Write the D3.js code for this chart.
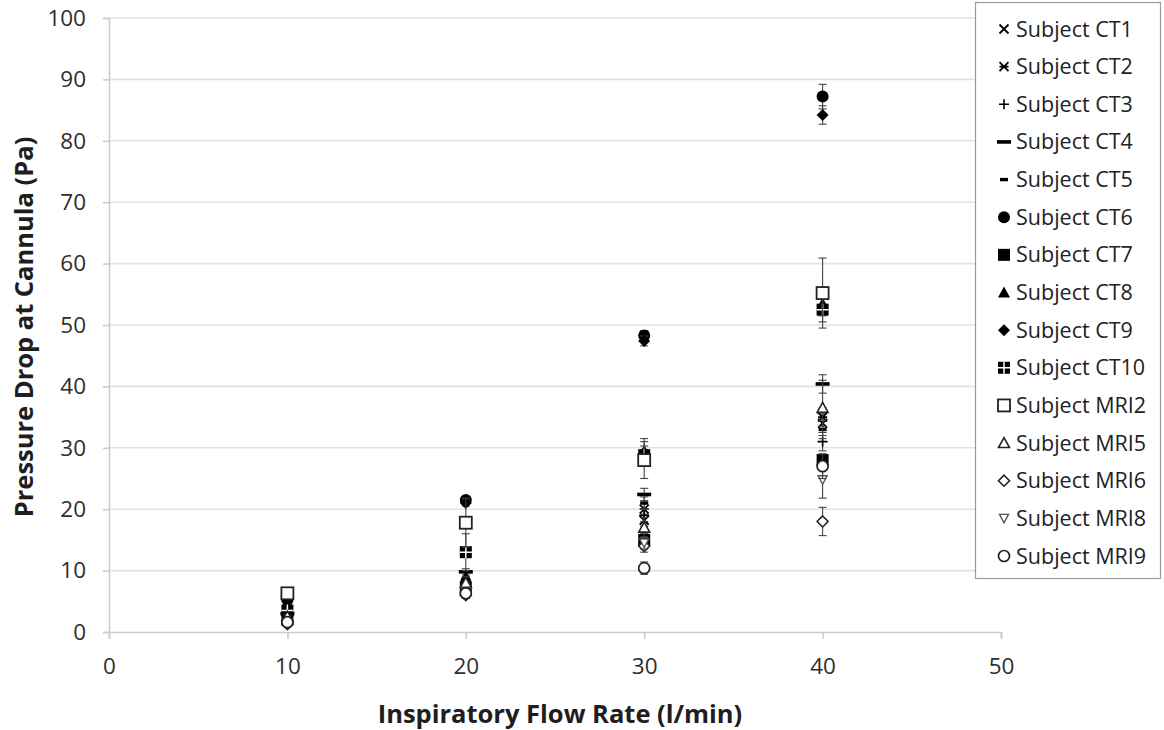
<!DOCTYPE html>
<html>
<head>
<meta charset="utf-8">
<script src="https://cdn.jsdelivr.net/npm/d3@7"></script>
<style>
  body { margin: 0; background: #fff; }
  svg text { font-family: "Open Sans", "DejaVu Sans", sans-serif; }
</style>
</head>
<body>
<div id="chart"></div>
<script>
// flow rates (x) and subjects
const flowRates = [10, 20, 30, 40];
const subjects = ["Subject CT1", "Subject CT2", "Subject CT3", "Subject CT4", "Subject CT5",
  "Subject CT6", "Subject CT7", "Subject CT8", "Subject CT9", "Subject CT10",
  "Subject MRI2", "Subject MRI5", "Subject MRI6", "Subject MRI8", "Subject MRI9"];

// pressure drop (Pa) at 10, 20, 30, 40 l/min
const ct1  = [2.2, 7.5, 18.2, 34.0];
const ct2  = [2.5, 8.0, 20.0, 35.0];
const ct3  = [2.0, 7.0, 19.0, 31.0];
const ct4  = [3.0, 9.8, 22.4, 40.4];
const ct5  = [2.4, 8.5, 21.0, 33.0];
const ct6  = [5.2, 21.5, 48.3, 87.2];
const ct7  = [2.0, 7.2, 15.0, 28.0];
const ct8  = [2.8, 9.0, 29.5, 53.5];
const ct9  = [5.0, 21.0, 47.4, 84.2];
const ct10 = [3.5, 13.0, 28.8, 52.5];
const mri2 = [6.3, 17.8, 28.0, 55.2];
const mri5 = [2.5, 8.0, 17.0, 36.5];
const mri6 = [1.3, 6.0, 14.0, 18.0];
const mri8 = [1.5, 6.5, 14.5, 24.8];
const mri9 = [1.6, 6.3, 10.4, 27.0];
const values = [ct1, ct2, ct3, ct4, ct5, ct6, ct7, ct8, ct9, ct10, mri2, mri5, mri6, mri8, mri9];

// error bar half-lengths (Pa)
const ct1Err  = [0.3, 0.5, 1.0, 1.5];
const ct2Err  = [0.3, 0.5, 1.0, 1.5];
const ct3Err  = [0.3, 0.5, 1.0, 1.5];
const ct4Err  = [0.3, 0.5, 1.0, 1.5];
const ct5Err  = [0.3, 0.5, 1.0, 1.5];
const ct6Err  = [0.5, 0.5, 0.8, 2.0];
const ct7Err  = [0.3, 0.5, 1.0, 1.0];
const ct8Err  = [0.3, 1.0, 2.0, 2.0];
const ct9Err  = [0.5, 0.5, 0.8, 1.5];
const ct10Err = [0.5, 3.0, 1.5, 2.0];
const mri2Err = [0.6, 4.0, 3.0, 5.7];
const mri5Err = [0.3, 1.0, 1.6, 4.5];
const mri6Err = [0.3, 0.5, 1.0, 2.3];
const mri8Err = [0.3, 0.5, 1.0, 3.0];
const mri9Err = [0.3, 0.5, 1.0, 2.0];
const errors = [ct1Err, ct2Err, ct3Err, ct4Err, ct5Err, ct6Err, ct7Err, ct8Err, ct9Err, ct10Err,
  mri2Err, mri5Err, mri6Err, mri8Err, mri9Err];

const xTicks = [0, 10, 20, 30, 40, 50];
const yTicks = [0, 10, 20, 30, 40, 50, 60, 70, 80, 90, 100];

// marker style per subject (same order as subjects)
const markerTypes = ["x", "asterisk", "plus", "dash", "shortdash", "circle", "square", "triangle",
  "diamond", "squarecross", "osquare", "otriangle", "odiamond", "otriangledown", "ocircle"];

const W = 1164, H = 730;
const margin = { top: 18, right: 163, bottom: 98, left: 109 };
const width = W - margin.left - margin.right,
      height = H - margin.top - margin.bottom;

const svg = d3.select("#chart").append("svg")
  .attr("width", W).attr("height", H);

const g = svg.append("g")
  .attr("transform", `translate(${margin.left},${margin.top})`);

const x = d3.scaleLinear().domain([0, 50]).range([0, width]);
const y = d3.scaleLinear().domain([0, 100]).range([height, 0]);

// gridlines
g.append("g").selectAll("line")
  .data(yTicks.slice(1))
  .join("line")
  .attr("x1", 0).attr("x2", width)
  .attr("y1", d => y(d)).attr("y2", d => y(d))
  .attr("stroke", "#e2e2e2").attr("stroke-width", 1.6);

// axes
const yAxis = g.append("g")
  .call(d3.axisLeft(y).tickValues(yTicks).tickSize(6).tickPadding(17));
const xAxis = g.append("g")
  .attr("transform", `translate(0,${height})`)
  .call(d3.axisBottom(x).tickValues(xTicks).tickSize(7).tickPadding(19));

[xAxis, yAxis].forEach(a => {
  a.attr("font-size", null).attr("font-family", null);
  a.selectAll("path, line").attr("stroke", "#cccccc").attr("stroke-width", 1.6);
  a.selectAll("text").style("font-size", "22.5px").attr("fill", "#2e2e2e");
});

function drawMarker(sel, type) {
  const s = 6;
  const black = "#000";
  switch (type) {
    case "x":
      sel.append("path").attr("d", "M-4.5,-4.5L4.5,4.5M4.5,-4.5L-4.5,4.5")
        .attr("stroke", black).attr("stroke-width", 1.8).attr("fill", "none");
      break;
    case "asterisk":
      sel.append("path").attr("d", "M-4.5,-4.5L4.5,4.5M4.5,-4.5L-4.5,4.5M-4.5,0L4.5,0")
        .attr("stroke", black).attr("stroke-width", 1.8).attr("fill", "none");
      break;
    case "plus":
      sel.append("path").attr("d", "M-5,0L5,0M0,-5L0,5")
        .attr("stroke", black).attr("stroke-width", 1.6).attr("fill", "none");
      break;
    case "dash":
      sel.append("rect").attr("x", -7).attr("y", -1.8).attr("width", 14).attr("height", 3.6)
        .attr("fill", black);
      break;
    case "shortdash":
      sel.append("rect").attr("x", -4).attr("y", -1.7).attr("width", 8).attr("height", 3.4)
        .attr("fill", black);
      break;
    case "circle":
      sel.append("circle").attr("r", s).attr("fill", black);
      break;
    case "square":
      sel.append("rect").attr("x", -s).attr("y", -s).attr("width", 2 * s).attr("height", 2 * s)
        .attr("fill", black);
      break;
    case "triangle":
      sel.append("path").attr("d", "M0,-6L6,5L-6,5Z").attr("fill", black);
      break;
    case "diamond":
      sel.append("path").attr("d", `M0,${-s}L${s},0L0,${s}L${-s},0Z`).attr("fill", black);
      break;
    case "squarecross":
      sel.append("rect").attr("x", -s).attr("y", -s).attr("width", 2 * s).attr("height", 2 * s)
        .attr("fill", black);
      sel.append("path").attr("d", `M${-s},0L${s},0M0,${-s}L0,${s}`)
        .attr("stroke", "#fff").attr("stroke-width", 1.5);
      break;
    case "osquare":
      sel.append("rect").attr("x", -6).attr("y", -6).attr("width", 12).attr("height", 12)
        .attr("fill", "#fff").attr("stroke", "#222").attr("stroke-width", 1.8);
      break;
    case "otriangle":
      sel.append("path").attr("d", "M0,-5.5L5.5,4.5L-5.5,4.5Z")
        .attr("fill", "#fff").attr("stroke", "#222").attr("stroke-width", 1.6);
      break;
    case "odiamond":
      sel.append("path").attr("d", "M0,-5.5L5.5,0L0,5.5L-5.5,0Z")
        .attr("fill", "#fff").attr("stroke", "#222").attr("stroke-width", 1.6);
      break;
    case "otriangledown":
      sel.append("path").attr("d", "M-4.5,-4L4.5,-4L0,4.5Z")
        .attr("fill", "#fff").attr("stroke", "#555").attr("stroke-width", 1.4);
      break;
    case "ocircle":
      sel.append("circle").attr("r", 5.5)
        .attr("fill", "#fff").attr("stroke", "#222").attr("stroke-width", 1.7);
      break;
  }
}

// series: error bars then markers
subjects.forEach((name, i) => {
  const pts = flowRates.map((f, j) => ({ f, v: values[i][j], e: errors[i][j] }));
  const sg = g.append("g");
  const eb = sg.selectAll("g.err").data(pts).join("g").attr("class", "err")
    .attr("stroke", "#444").attr("stroke-width", 1.1);
  eb.append("line")
    .attr("x1", d => x(d.f)).attr("x2", d => x(d.f))
    .attr("y1", d => y(d.v - d.e)).attr("y2", d => y(d.v + d.e));
  eb.append("line")
    .attr("x1", d => x(d.f) - 4).attr("x2", d => x(d.f) + 4)
    .attr("y1", d => y(d.v - d.e)).attr("y2", d => y(d.v - d.e));
  eb.append("line")
    .attr("x1", d => x(d.f) - 4).attr("x2", d => x(d.f) + 4)
    .attr("y1", d => y(d.v + d.e)).attr("y2", d => y(d.v + d.e));
  sg.selectAll("g.mk").data(pts).join("g").attr("class", "mk")
    .attr("transform", d => `translate(${x(d.f)},${y(d.v)})`)
    .each(function () { drawMarker(d3.select(this), markerTypes[i]); });
});

// axis titles
svg.append("text")
  .attr("transform", "translate(33,327) rotate(-90)")
  .attr("text-anchor", "middle")
  .attr("font-size", 25.5).attr("font-weight", "bold").attr("fill", "#1e1e1e")
  .text("Pressure Drop at Cannula (Pa)");
svg.append("text")
  .attr("x", 560).attr("y", 723)
  .attr("text-anchor", "middle")
  .attr("font-size", 25.5).attr("font-weight", "bold").attr("fill", "#1e1e1e")
  .text("Inspiratory Flow Rate (l/min)");

// legend
const legend = svg.append("g");
legend.append("rect")
  .attr("x", 975.5).attr("y", 2.5).attr("width", 185).attr("height", 576)
  .attr("fill", "#fff").attr("stroke", "#999").attr("stroke-width", 1.2);
const ly = d3.scalePoint().domain(subjects).range([29, 556]);
const items = legend.selectAll("g.item").data(subjects).join("g").attr("class", "item")
  .attr("transform", d => `translate(1004,${ly(d)})`);
items.each(function (d, i) { drawMarker(d3.select(this), markerTypes[i]); });
items.append("text")
  .attr("x", 12).attr("dy", "0.35em")
  .attr("font-size", 21.5).attr("fill", "#222")
  .text(d => d);
</script>
</body>
</html>
